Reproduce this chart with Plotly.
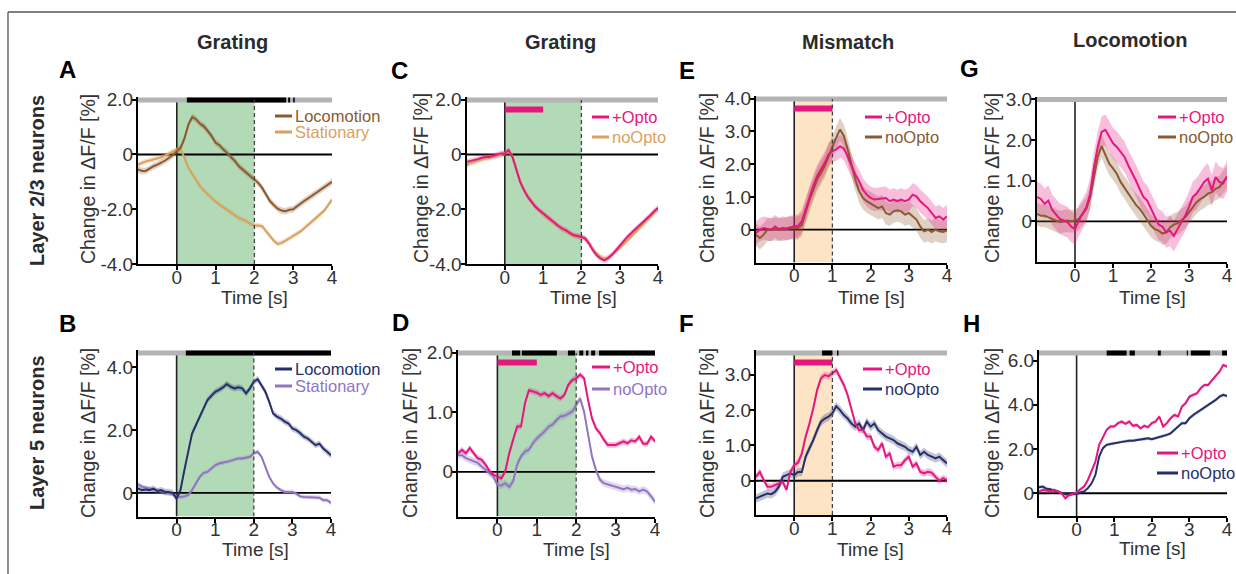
import plotly.graph_objects as go

W, H = 1236, 574
FONT = "Arial, 'Liberation Sans', Helvetica, sans-serif"

# ---------------- data ----------------
TIME = [round(-1 + 0.1 * i, 1) for i in range(51)]

A_loc = [-0.55,-0.6,-0.6,-0.5,-0.43,-0.37,-0.3,-0.22,-0.12,-0.02,0.12,0.25,0.6,1.1,1.37,1.28,1.12,1.03,0.85,0.67,0.43,0.34,0.18,0.06,-0.1,-0.24,-0.43,-0.55,-0.67,-0.79,-0.91,-1.04,-1.22,-1.46,-1.7,-1.85,-1.98,-2.05,-2.07,-2.02,-2.0,-1.89,-1.77,-1.68,-1.59,-1.49,-1.4,-1.32,-1.2,-1.1,-1.0]
A_stat = [-0.37,-0.3,-0.25,-0.22,-0.18,-0.12,-0.1,-0.03,0.05,0.1,0.18,0.18,-0.12,-0.49,-0.73,-0.95,-1.16,-1.32,-1.46,-1.61,-1.73,-1.83,-1.93,-2.02,-2.12,-2.22,-2.32,-2.38,-2.44,-2.54,-2.59,-2.59,-2.62,-2.8,-2.98,-3.15,-3.27,-3.23,-3.15,-3.07,-2.98,-2.9,-2.8,-2.68,-2.56,-2.44,-2.32,-2.2,-2.05,-1.85,-1.65]
C_opto = [-0.27,-0.24,-0.2,-0.17,-0.12,-0.09,-0.09,-0.05,-0.02,0.04,0.04,0.16,-0.09,-0.57,-1.0,-1.3,-1.55,-1.73,-1.91,-2.04,-2.16,-2.28,-2.4,-2.49,-2.61,-2.71,-2.77,-2.87,-2.95,-2.98,-3.01,-3.07,-3.26,-3.5,-3.68,-3.8,-3.87,-3.78,-3.66,-3.5,-3.32,-3.17,-3.01,-2.89,-2.74,-2.61,-2.49,-2.37,-2.22,-2.07,-1.95]
C_noopto = [-0.4,-0.32,-0.28,-0.22,-0.18,-0.15,-0.12,-0.1,-0.05,0.0,0.05,0.1,-0.05,-0.5,-0.95,-1.28,-1.52,-1.72,-1.9,-2.05,-2.18,-2.3,-2.42,-2.52,-2.63,-2.74,-2.82,-2.9,-2.97,-3.0,-3.02,-3.06,-3.22,-3.45,-3.62,-3.74,-3.8,-3.77,-3.68,-3.56,-3.42,-3.28,-3.14,-3.0,-2.86,-2.72,-2.58,-2.45,-2.3,-2.15,-2.0]
E_opto = [-0.1,0.0,0.05,0.02,0.0,0.1,0.02,0.05,0.04,0.08,0.1,0.12,0.26,0.61,1.02,1.33,1.63,1.84,2.04,2.3,2.4,2.45,2.55,2.47,2.24,1.94,1.68,1.48,1.22,1.07,0.97,0.92,0.94,0.94,0.97,0.87,0.92,0.87,0.92,0.87,0.92,1.07,1.02,0.87,0.77,0.66,0.51,0.36,0.41,0.31,0.41]
E_noopto = [-0.15,-0.25,-0.15,0.0,0.0,0.02,0.0,0.0,0.02,0.05,0.05,0.05,0.15,0.56,0.92,1.22,1.53,1.73,1.94,2.24,2.55,2.81,3.06,2.86,2.45,1.99,1.53,1.17,0.97,0.87,0.8,0.73,0.66,0.71,0.51,0.46,0.56,0.59,0.56,0.46,0.51,0.41,0.31,0.1,-0.05,0.0,-0.07,0.0,-0.05,-0.07,-0.02]
G_opto = [0.6,0.55,0.43,0.51,0.28,0.18,0.06,0.02,-0.02,-0.13,-0.19,0.02,0.18,0.35,0.68,1.34,1.83,2.2,2.25,2.08,1.92,1.83,1.71,1.59,1.38,1.21,1.01,0.8,0.6,0.51,0.31,0.1,-0.08,-0.13,-0.27,-0.23,-0.36,-0.19,-0.02,0.14,0.35,0.6,0.68,0.84,0.97,1.05,0.76,1.09,0.97,0.93,1.11]
G_noopto = [0.18,0.14,0.14,0.1,0.06,0.02,-0.02,0.0,0.02,0.0,0.02,0.06,0.18,0.31,0.6,1.09,1.59,1.85,1.63,1.42,1.3,1.17,0.97,0.84,0.68,0.55,0.41,0.31,0.18,0.02,-0.11,-0.19,-0.23,-0.3,-0.27,-0.15,-0.08,-0.05,0.02,0.1,0.22,0.35,0.47,0.55,0.6,0.68,0.72,0.8,0.84,0.97,1.09]
B_loc = [0.14,0.09,0.11,0.09,0.14,0.06,0.09,0.03,0.03,0.0,-0.18,0.09,0.72,1.36,1.89,2.16,2.43,2.69,2.96,3.09,3.22,3.28,3.36,3.47,3.38,3.33,3.36,3.33,3.17,3.33,3.54,3.62,3.44,3.22,2.9,2.53,2.43,2.37,2.27,2.21,2.05,2.0,1.91,1.79,1.73,1.63,1.52,1.57,1.41,1.31,1.2]
B_stat = [0.28,0.21,0.17,0.14,0.09,0.06,0.03,0.0,-0.02,-0.04,-0.11,-0.13,-0.11,-0.07,0.09,0.3,0.51,0.64,0.67,0.78,0.88,0.94,0.96,0.99,1.02,1.06,1.1,1.1,1.12,1.15,1.26,1.31,1.15,0.83,0.51,0.3,0.17,0.09,0.03,0.03,0.03,-0.02,-0.11,-0.13,-0.13,-0.13,-0.15,-0.15,-0.23,-0.23,-0.32]
D_opto = [0.31,0.37,0.31,0.4,0.31,0.23,0.2,0.12,0.01,-0.05,-0.08,-0.11,0.01,0.31,0.54,0.76,0.76,1.15,1.37,1.35,1.33,1.29,1.32,1.27,1.32,1.27,1.23,1.29,1.46,1.54,1.57,1.63,1.57,1.21,0.9,0.73,0.65,0.54,0.45,0.45,0.45,0.48,0.51,0.48,0.53,0.51,0.59,0.47,0.47,0.59,0.51]
D_noopto = [0.28,0.28,0.23,0.2,0.17,0.15,0.09,0.03,-0.02,-0.08,-0.22,-0.23,-0.19,-0.25,-0.16,0.12,0.26,0.34,0.37,0.48,0.56,0.62,0.68,0.76,0.79,0.87,0.93,0.94,0.98,1.01,1.12,1.23,1.01,0.65,0.26,0.03,-0.13,-0.19,-0.21,-0.22,-0.25,-0.27,-0.29,-0.27,-0.3,-0.29,-0.33,-0.3,-0.33,-0.41,-0.5]
F_opto = [0.11,0.25,0.02,-0.17,-0.17,-0.12,-0.08,-0.03,-0.26,0.25,0.44,0.51,0.77,1.25,1.62,2.05,2.57,2.9,2.99,2.96,3.04,3.13,2.92,2.71,2.42,2.05,1.62,1.43,1.45,1.25,1.25,0.96,0.87,1.06,0.68,0.77,0.4,0.44,0.44,0.58,0.68,0.4,0.49,0.25,0.21,0.25,0.23,0.11,0.0,0.07,0.02]
F_noopto = [-0.5,-0.45,-0.41,-0.36,-0.38,-0.31,-0.17,0.11,0.16,0.21,0.16,0.25,0.25,0.68,0.92,1.15,1.43,1.67,1.76,1.81,1.91,2.11,2.0,1.86,1.76,1.62,1.53,1.62,1.43,1.67,1.53,1.62,1.43,1.34,1.25,1.2,1.15,1.06,1.01,0.96,0.87,0.82,0.96,0.73,0.82,0.73,0.68,0.63,0.68,0.58,0.49]
H_opto = [0.08,0.15,0.12,0.08,0.15,0.08,0.0,-0.23,-0.08,-0.03,0.03,0.18,0.3,0.6,1.06,1.43,2.19,2.56,2.87,3.02,3.02,3.17,3.24,3.14,3.24,3.05,3.09,2.94,3.05,2.99,3.17,3.24,3.47,3.02,3.17,3.39,3.54,3.47,3.92,4.07,4.37,4.45,4.52,4.75,4.9,4.9,5.13,5.31,5.5,5.8,5.73]
H_noopto = [0.27,0.3,0.2,0.18,0.12,0.08,0.0,-0.03,-0.08,-0.03,-0.03,0.03,0.08,0.23,0.45,0.83,1.66,2.04,2.19,2.23,2.26,2.29,2.34,2.34,2.38,2.38,2.41,2.44,2.44,2.49,2.44,2.49,2.52,2.59,2.64,2.71,2.87,3.05,3.17,3.17,3.39,3.54,3.65,3.77,3.89,4.0,4.1,4.22,4.37,4.45,4.4]

# SEM (approximate half-widths of shaded bands)
SEM = {"A_loc": 0.12, "A_stat": 0.1, "C_opto": 0.1, "C_noopto": 0.1,
       "E_opto": 0.35, "E_noopto": 0.35, "G_opto": 0.38, "G_noopto": 0.28,
       "B_loc": 0.1, "B_stat": 0.07, "D_opto": 0.05, "D_noopto": 0.06,
       "F_opto": 0.1, "F_noopto": 0.12, "H_opto": 0.08, "H_noopto": 0.07}

# significance intervals (s)
A_SIG = [(0.26, 2.82), (2.87, 2.92), (3.0, 3.04)]
B_SIG = [(0.24, 4.0)]
D_SIG = [(0.37, 0.58), (0.62, 1.51), (1.79, 1.97), (2.08, 2.18), (2.25, 2.31), (2.38, 2.48), (2.58, 4.0)]
F_SIG = [(0.73, 1.0), (1.12, 1.16)]
H_SIG = [(0.8, 1.33), (1.41, 1.55), (2.16, 2.24), (2.93, 2.96), (3.04, 3.55), (3.87, 4.0)]

GRATING_WIN = (0, 2)
MISMATCH_WIN = (0, 1)
OPTO_WIN = (0, 1)

X_TICKS = [0, 1, 2, 3, 4]
X_TICKTEXT = ["0", "1", "2", "3", "4"]

# ---------------- styles ----------------
BROWN = "#8B5A2E"; TAN = "#D9A15E"; MAGENTA = "#E5177E"; NAVY = "#272F6B"; PURPLE = "#9175C1"
GREEN = "#B2DAB6"; ORANGE = "#FCE4C5"; GRAY = "#B4B4B4"; TXT = "#2B2B2B"

def rgba(hexc, a):
    h = hexc.lstrip("#")
    return f"rgba({int(h[0:2],16)},{int(h[2:4],16)},{int(h[4:6],16)},{a})"

panels = [
    dict(letter="A", title="Grating", px=(138, 332), py=(97, 264), yr=(-4, 2.1),
         yt=[-4, -2, 0, 2], ytt=["-4.0", "-2.0", "0", "2.0"],
         series=[("Locomotion", A_loc, "A_loc", BROWN), ("Stationary", A_stat, "A_stat", TAN)],
         shade=GRATING_WIN, shade_color=GREEN, opto=False, sig=A_SIG,
         leg=(275, 292, [116, 132]), lab=(67, 69), ylab=(88, 179), tlab=(254, 297), ttl=(232, 42)),
    dict(letter="C", title="Grating", px=(466.5, 658), py=(97, 264), yr=(-4, 2.1),
         yt=[-4, -2, 0, 2], ytt=["-4.0", "-2.0", "0", "2.0"],
         series=[("+Opto", C_opto, "C_opto", MAGENTA), ("noOpto", C_noopto, "C_noopto", TAN)],
         shade=GRATING_WIN, shade_color=GREEN, opto=True, sig=[],
         leg=(592, 609, [117, 137]), lab=(399, 70), ylab=(421, 178), tlab=(583, 297), ttl=(560, 42)),
    dict(letter="E", title="Mismatch", px=(756, 947), py=(96, 262.5), yr=(-1, 4.08),
         yt=[0, 1, 2, 3, 4], ytt=["0", "1.0", "2.0", "3.0", "4.0"],
         series=[("+Opto", E_opto, "E_opto", MAGENTA), ("noOpto", E_noopto, "E_noopto", BROWN)],
         shade=MISMATCH_WIN, shade_color=ORANGE, opto=True, sig=[],
         leg=(865, 882, [117, 137]), lab=(687, 70), ylab=(707, 178), tlab=(872, 297), ttl=(848, 42)),
    dict(letter="G", title="Locomotion", px=(1037, 1227), py=(96.5, 262), yr=(-1, 3.07),
         yt=[0, 1, 2, 3], ytt=["0", "1.0", "2.0", "3.0"],
         series=[("+Opto", G_opto, "G_opto", MAGENTA), ("noOpto", G_noopto, "G_noopto", BROWN)],
         shade=None, shade_color=None, opto=False, sig=[],
         leg=(1158, 1176, [117, 137]), lab=(970, 68), ylab=(992, 178), tlab=(1152, 297), ttl=(1130, 40)),
    dict(letter="B", title=None, px=(138, 331), py=(350, 516.5), yr=(-0.75, 4.55),
         yt=[0, 2, 4], ytt=["0", "2.0", "4.0"],
         series=[("Locomotion", B_loc, "B_loc", NAVY), ("Stationary", B_stat, "B_stat", PURPLE)],
         shade=GRATING_WIN, shade_color=GREEN, opto=False, sig=B_SIG,
         leg=(275, 292, [369, 386]), lab=(67, 323), ylab=(88, 433), tlab=(255, 549), ttl=None),
    dict(letter="D", title=None, px=(458, 655), py=(350, 516.5), yr=(-0.75, 2.045),
         yt=[0, 1, 2], ytt=["0", "1.0", "2.0"],
         series=[("+Opto", D_opto, "D_opto", MAGENTA), ("noOpto", D_noopto, "D_noopto", PURPLE)],
         shade=GRATING_WIN, shade_color=GREEN, opto=True, sig=D_SIG,
         leg=(592, 610, [367, 389]), lab=(400, 322), ylab=(410, 433), tlab=(576, 549), ttl=None),
    dict(letter="F", title=None, px=(756, 947), py=(350, 515), yr=(-0.97, 3.7),
         yt=[0, 1, 2, 3], ytt=["0", "1.0", "2.0", "3.0"],
         series=[("+Opto", F_opto, "F_opto", MAGENTA), ("noOpto", F_noopto, "F_noopto", NAVY)],
         shade=MISMATCH_WIN, shade_color=ORANGE, opto=True, sig=F_SIG,
         leg=(863, 882, [369, 389]), lab=(686, 323), ylab=(707, 433), tlab=(870, 549), ttl=None),
    dict(letter="H", title=None, px=(1039, 1227), py=(350, 516), yr=(-1.03, 6.48),
         yt=[0, 2, 4, 6], ytt=["0", "2.0", "4.0", "6.0"],
         series=[("+Opto", H_opto, "H_opto", MAGENTA), ("noOpto", H_noopto, "H_noopto", NAVY)],
         shade=None, shade_color=None, opto=False, sig=H_SIG,
         leg=(1157, 1178, [453, 473]), lab=(971, 323), ylab=(992, 433), tlab=(1152, 548), ttl=None),
]

def pxx(x):
    return x / W

def pxy(y):
    return 1 - y / H

fig = go.Figure()
layout = dict(width=W, height=H, autosize=False,
              margin=dict(l=0, r=0, t=0, b=0, pad=0, autoexpand=False),
              paper_bgcolor="white", plot_bgcolor="rgba(0,0,0,0)",
              showlegend=False, font=dict(family=FONT, color=TXT))
shapes = []
annotations = []

# outer frame (top and left edges)
shapes.append(dict(type="line", xref="paper", yref="paper", x0=pxx(8), x1=1.0,
                   y0=pxy(12), y1=pxy(12), line=dict(color="#555555", width=1.3), layer="below"))
shapes.append(dict(type="line", xref="paper", yref="paper", x0=pxx(8), x1=pxx(8),
                   y0=0.0, y1=pxy(12), line=dict(color="#555555", width=1.3), layer="below"))

for i, p in enumerate(panels, start=1):
    xa = "x" if i == 1 else f"x{i}"
    ya = "y" if i == 1 else f"y{i}"
    xkey = "xaxis" if i == 1 else f"xaxis{i}"
    ykey = "yaxis" if i == 1 else f"yaxis{i}"
    lo, hi = p["yr"]
    top, bot = p["py"]
    scale = (bot - top) / (hi - lo)
    y_bar = hi - 3.0 / scale          # gray significance bar level
    y_opto = hi - 12.5 / scale        # opto bar level

    layout[xkey] = dict(domain=[pxx(p["px"][0]), pxx(p["px"][1])], anchor=ya,
                        range=[-1, 4], tickvals=X_TICKS, ticktext=X_TICKTEXT,
                        showline=True, linecolor="black", linewidth=2,
                        ticks="outside", ticklen=4, tickwidth=1.5, tickcolor="black",
                        ticklabelstandoff=-9,
                        showgrid=False, zeroline=False, automargin=False,
                        tickfont=dict(size=19, color="#333333", family=FONT))
    layout[ykey] = dict(domain=[pxy(bot), pxy(top)], anchor=xa,
                        range=[lo, hi], tickvals=p["yt"], ticktext=p["ytt"],
                        showline=True, linecolor="black", linewidth=2,
                        ticks="outside", ticklen=4, tickwidth=1.5, tickcolor="black",
                        ticklabelstandoff=-5,
                        showgrid=False, zeroline=False, automargin=False,
                        tickfont=dict(size=19, color="#333333", family=FONT))

    if p["shade"]:
        s0, s1 = p["shade"]
        shapes.append(dict(type="rect", xref=xa, yref=ya, x0=s0, x1=s1, y0=lo, y1=y_bar,
                           fillcolor=p["shade_color"], line=dict(width=0), layer="below"))
    shapes.append(dict(type="line", xref=xa, yref=ya, x0=-1, x1=4, y0=0, y1=0,
                       line=dict(color="black", width=1.8), layer="below"))
    shapes.append(dict(type="line", xref=xa, yref=ya, x0=0, x1=0, y0=lo, y1=y_bar,
                       line=dict(color="#222222", width=1.6), layer="below"))
    if p["shade"]:
        s1 = p["shade"][1]
        shapes.append(dict(type="line", xref=xa, yref=ya, x0=s1, x1=s1, y0=lo, y1=y_bar,
                           line=dict(color="#444444", width=1.3, dash="4px,3px"), layer="above"))

    for name, vals, key, col in reversed(p["series"]):
        assert len(vals) == len(TIME), key
        sem = SEM[key]
        up = [v + sem for v in vals]
        dn = [v - sem for v in vals]
        fig.add_trace(go.Scatter(x=TIME + TIME[::-1], y=up + dn[::-1], fill="toself",
                                 fillcolor=rgba(col, 0.28), line=dict(width=0),
                                 mode="lines", hoverinfo="skip", xaxis=xa, yaxis=ya))
    for name, vals, key, col in reversed(p["series"]):
        fig.add_trace(go.Scatter(x=TIME, y=vals, mode="lines", name=name,
                                 line=dict(color=col, width=2), xaxis=xa, yaxis=ya))

    if p["opto"]:
        fig.add_trace(go.Scatter(x=list(OPTO_WIN), y=[y_opto, y_opto], mode="lines",
                                 line=dict(color=MAGENTA, width=6), xaxis=xa, yaxis=ya,
                                 hoverinfo="skip"))
    fig.add_trace(go.Scatter(x=[-1, 4], y=[y_bar, y_bar], mode="lines",
                             line=dict(color=GRAY, width=5), xaxis=xa, yaxis=ya, hoverinfo="skip"))
    if p["sig"]:
        sx, sy = [], []
        for a, b in p["sig"]:
            sx += [a, b, None]
            sy += [y_bar, y_bar, None]
        fig.add_trace(go.Scatter(x=sx, y=sy, mode="lines",
                                 line=dict(color="black", width=5), xaxis=xa, yaxis=ya,
                                 hoverinfo="skip"))

    lx0, lx1, lys = p["leg"]
    for (name, vals, key, col), ly in zip(p["series"], lys):
        shapes.append(dict(type="line", xref="paper", yref="paper", x0=pxx(lx0), x1=pxx(lx1),
                           y0=pxy(ly), y1=pxy(ly), line=dict(color=col, width=3)))
        annotations.append(dict(x=pxx(lx1 + 1), y=pxy(ly), xref="paper", yref="paper",
                                text=name, showarrow=False, xanchor="left", yanchor="middle",
                                font=dict(size=16.5, color=col, family=FONT)))

    annotations.append(dict(x=pxx(p["lab"][0]), y=pxy(p["lab"][1]), xref="paper", yref="paper",
                            text=f"<b>{p['letter']}</b>", showarrow=False,
                            xanchor="center", yanchor="middle",
                            font=dict(size=24, color="black", family=FONT)))
    if p["ttl"]:
        annotations.append(dict(x=pxx(p["ttl"][0]), y=pxy(p["ttl"][1]), xref="paper", yref="paper",
                                text=f"<b>{p['title']}</b>", showarrow=False,
                                xanchor="center", yanchor="middle",
                                font=dict(size=20, color=TXT, family=FONT)))
    annotations.append(dict(x=pxx(p["ylab"][0]), y=pxy(p["ylab"][1]), xref="paper", yref="paper",
                            text="Change in ΔF/F [%]", showarrow=False, textangle=-90,
                            xanchor="center", yanchor="middle",
                            font=dict(size=19.5, color="#333333", family=FONT)))
    annotations.append(dict(x=pxx(p["tlab"][0]), y=pxy(p["tlab"][1]), xref="paper", yref="paper",
                            text="Time [s]", showarrow=False,
                            xanchor="center", yanchor="middle",
                            font=dict(size=19, color="#333333", family=FONT)))

annotations.append(dict(x=pxx(37), y=pxy(181), xref="paper", yref="paper",
                        text="<b>Layer 2/3 neurons</b>", showarrow=False, textangle=-90,
                        xanchor="center", yanchor="middle",
                        font=dict(size=20, color=TXT, family=FONT)))
annotations.append(dict(x=pxx(37), y=pxy(433), xref="paper", yref="paper",
                        text="<b>Layer 5 neurons</b>", showarrow=False, textangle=-90,
                        xanchor="center", yanchor="middle",
                        font=dict(size=20, color=TXT, family=FONT)))

layout["shapes"] = shapes
layout["annotations"] = annotations
fig.update_layout(**layout)
fig.write_html("out.html", config={"displayModeBar": False},
               post_script="document.body.style.margin='0';document.body.style.overflow='hidden';")
